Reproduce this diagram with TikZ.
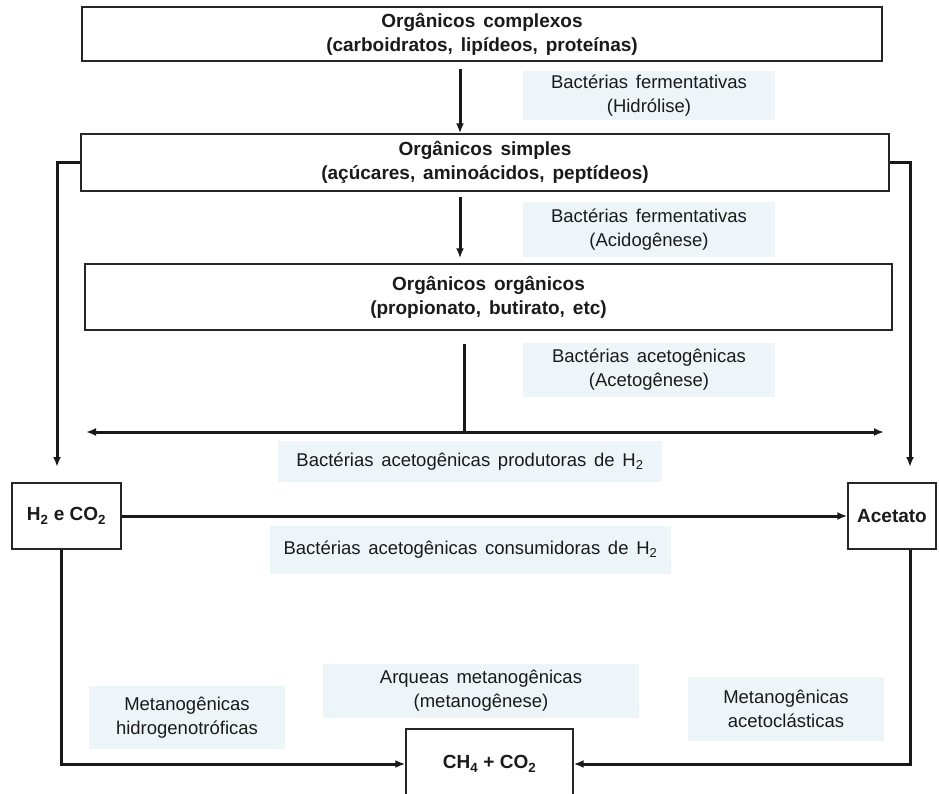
\documentclass[tikz,border=0pt]{standalone}
\usepackage{fontspec}
\setmainfont{Liberation Sans}
\newfontfamily\widefont[WordSpace=1.5]{Liberation Sans}
\usetikzlibrary{arrows.meta}
\definecolor{lblfill}{HTML}{EEF5F9}
\definecolor{txt}{HTML}{1A1A1A}
\tikzset{
  box/.style={draw=black!85, line width=1.4pt, fill=white, inner sep=0pt, align=center,
    font=\widefont\fontsize{19}{24}\selectfont\bfseries, text=txt},
  lbl/.style={fill=lblfill, draw=none, inner sep=0pt, align=center,
    font=\widefont\fontsize{18.5}{24}\selectfont, text=txt},
  conn/.style={line width=3pt, draw=black!90},
  arr/.style={conn, -{Latex[length=10pt,width=8pt]}},
  darr/.style={conn, {Latex[length=10pt,width=8pt]}-{Latex[length=10pt,width=8pt]}}
}
\begin{document}
\begin{tikzpicture}[x=1pt,y=-1pt]
\useasboundingbox (0,0) rectangle (939,794);
\clip (0,0) rectangle (939,794);
\fill[white] (0,0) rectangle (939,794);

% main boxes
\node[box, minimum width=800pt, minimum height=54pt] (top) at (482,34)
  {Orgânicos complexos\\(carboidratos, lipídeos, proteínas)};
\node[box, minimum width=808pt, minimum height=57pt] (simp) at (485,162.5)
  {Orgânicos simples\\(açúcares, aminoácidos, peptídeos)};
\node[box, minimum width=807pt, minimum height=66pt] (org) at (488.5,297)
  {Orgânicos orgânicos\\(propionato, butirato, etc)};
\node[box, font=\fontsize{19}{24}\selectfont\bfseries, minimum width=109pt, minimum height=66pt] (h2) at (66.5,516)
  {H\textsubscript{2} e CO\textsubscript{2}};
\node[box, minimum width=88pt, minimum height=66pt] (acet) at (892,516)
  {Acetato};
\node[box, font=\fontsize{19}{24}\selectfont\bfseries, minimum width=167pt, minimum height=70pt] (ch4) at (489.5,764)
  {CH\textsubscript{4} + CO\textsubscript{2}};

% labels
\node[lbl, minimum width=252pt, minimum height=49pt] (l1) at (649,95.5)
  {Bactérias fermentativas\\(Hidrólise)};
\node[lbl, minimum width=252pt, minimum height=55pt] (l2) at (649,229.5)
  {Bactérias fermentativas\\(Acidogênese)};
\node[lbl, minimum width=252pt, minimum height=54pt] (l3) at (649,370)
  {Bactérias acetogênicas\\(Acetogênese)};
\node[lbl, minimum width=384pt, minimum height=41pt] (l4) at (470,461.5)
  {Bactérias acetogênicas produtoras de H\textsubscript{2}};
\node[lbl, minimum width=401pt, minimum height=48pt] (l5) at (470.5,550)
  {Bactérias acetogênicas consumidoras de H\textsubscript{2}};
\node[lbl, minimum width=196pt, minimum height=63pt] (l6) at (187,717.5)
  {Metanogênicas\\hidrogenotróficas};
\node[lbl, minimum width=316pt, minimum height=54pt] (l7) at (481,691)
  {Arqueas metanogênicas\\(metanogênese)};
\node[lbl, minimum width=196pt, minimum height=64pt] (l8) at (786,709)
  {Metanogênicas\\acetoclásticas};

% helper coordinates
\coordinate (xa) at (460,0);
\coordinate (xb) at (464,0);
\coordinate (lt) at (57,467);
\coordinate (rt) at (910,467);
\coordinate (dl) at (86,432);
\coordinate (dr) at (884,432);
\coordinate (bl) at (61,0);
\coordinate (br) at (910,0);

% connectors
\draw[arr, shorten <=7pt] (top.south -| xa) -- (simp.north -| xa);
\draw[arr, shorten <=5pt, shorten >=5pt] (simp.south -| xa) -- (org.north -| xa);
\draw[conn, shorten <=13pt] (org.south -| xb) -- (dl -| xb);
\draw[darr] (dl) -- (dr);
\draw[arr] (simp.west) -| (lt);
\draw[arr] (simp.east) -| (rt);
\draw[arr] (h2.east) -- (acet.west);
\draw[arr] (h2.south -| bl) |- (ch4.west);
\draw[arr] (acet.south -| br) |- (ch4.east);
\end{tikzpicture}
\end{document}
